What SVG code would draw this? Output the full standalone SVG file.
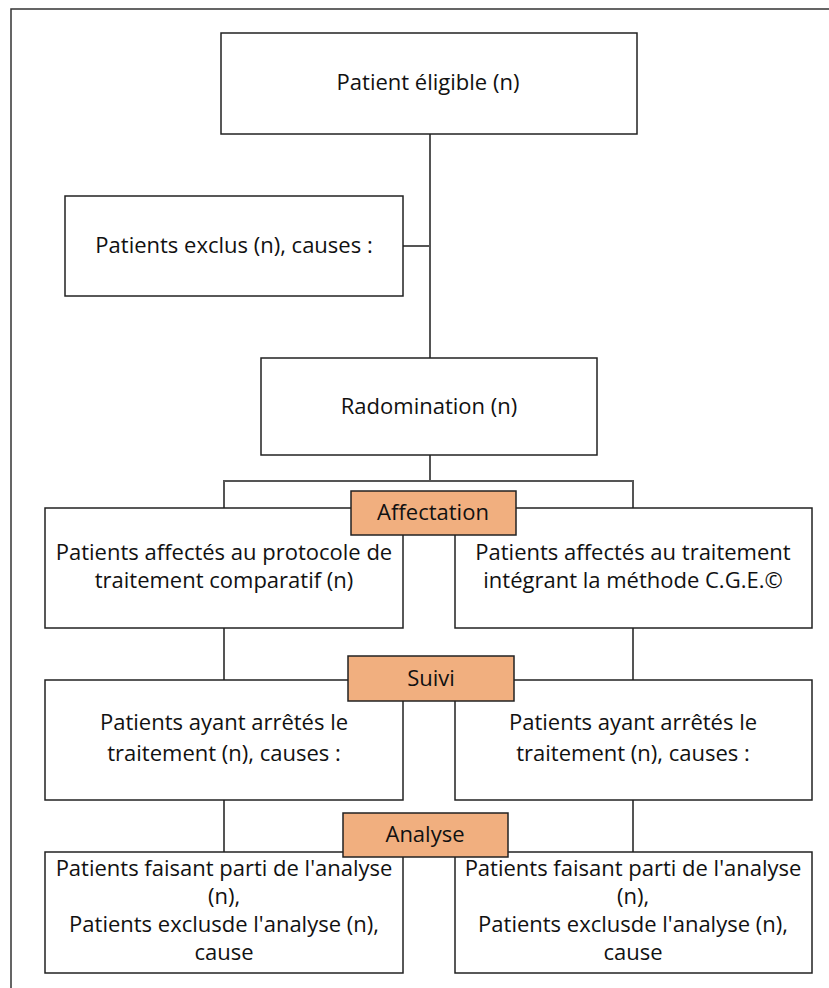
<svg xmlns="http://www.w3.org/2000/svg" width="829" height="988" viewBox="0 0 829 988">
<style>
.box{fill:#fff;stroke:#222;stroke-width:1.5}
.tag{fill:#F1AF7F;stroke:#222;stroke-width:1.5}
.ln{fill:none;stroke:#555;stroke-width:2}
text{font-family:"Open Sans","Liberation Sans",sans-serif;font-size:22px;fill:#111;text-anchor:middle}
</style>
<rect width="829" height="988" fill="#fff"/>
<path d="M11,988 V9 H829" fill="none" stroke="#333" stroke-width="1.5"/>
<g id="connectors">
<path class="ln" d="M430,134 V358"/>
<path class="ln" d="M403,246 H430"/>
<path class="ln" d="M430,455 V481 M224,508 V481 H633 V508"/>
<path class="ln" d="M224,628 V680 M633,628 V680"/>
<path class="ln" d="M224,800 V852 M633,800 V852"/>
</g>
<g id="eligible"><rect class="box" x="221" y="33" width="416" height="101"/><text x="428" y="90">Patient éligible (n)</text></g>
<g id="exclus"><rect class="box" x="65" y="196" width="338" height="100"/><text x="234" y="253">Patients exclus (n), causes :</text></g>
<g id="radomination"><rect class="box" x="261" y="358" width="336" height="97"/><text x="429" y="414">Radomination (n)</text></g>
<g id="affecte-comparatif"><rect class="box" x="45" y="508" width="358" height="120"/><text x="224" y="560">Patients affectés au protocole de</text><text x="224" y="588">traitement comparatif (n)</text></g>
<g id="affecte-cge"><rect class="box" x="455" y="508" width="357" height="120"/><text x="633" y="560">Patients affectés au traitement</text><text x="633" y="588">intégrant la méthode C.G.E.©</text></g>
<g id="affectation"><rect class="tag" x="351" y="491" width="165" height="44"/><text x="433" y="520">Affectation</text></g>
<g id="arret-gauche"><rect class="box" x="45" y="680" width="358" height="120"/><text x="224" y="730">Patients ayant arrêtés le</text><text x="224" y="761">traitement (n), causes :</text></g>
<g id="arret-droite"><rect class="box" x="455" y="680" width="357" height="120"/><text x="633" y="730">Patients ayant arrêtés le</text><text x="633" y="761">traitement (n), causes :</text></g>
<g id="suivi"><rect class="tag" x="348" y="656" width="166" height="45"/><text x="431" y="686">Suivi</text></g>
<g id="analyse-gauche"><rect class="box" x="45" y="852" width="358" height="121"/><text x="224" y="876">Patients faisant parti de l'analyse</text><text x="224" y="904">(n),</text><text x="224" y="932">Patients exclusde l'analyse (n),</text><text x="224" y="960">cause</text></g>
<g id="analyse-droite"><rect class="box" x="455" y="852" width="357" height="121"/><text x="633" y="876">Patients faisant parti de l'analyse</text><text x="633" y="904">(n),</text><text x="633" y="932">Patients exclusde l'analyse (n),</text><text x="633" y="960">cause</text></g>
<g id="analyse"><rect class="tag" x="343" y="813" width="165" height="44"/><text x="425" y="842">Analyse</text></g>
</svg>
